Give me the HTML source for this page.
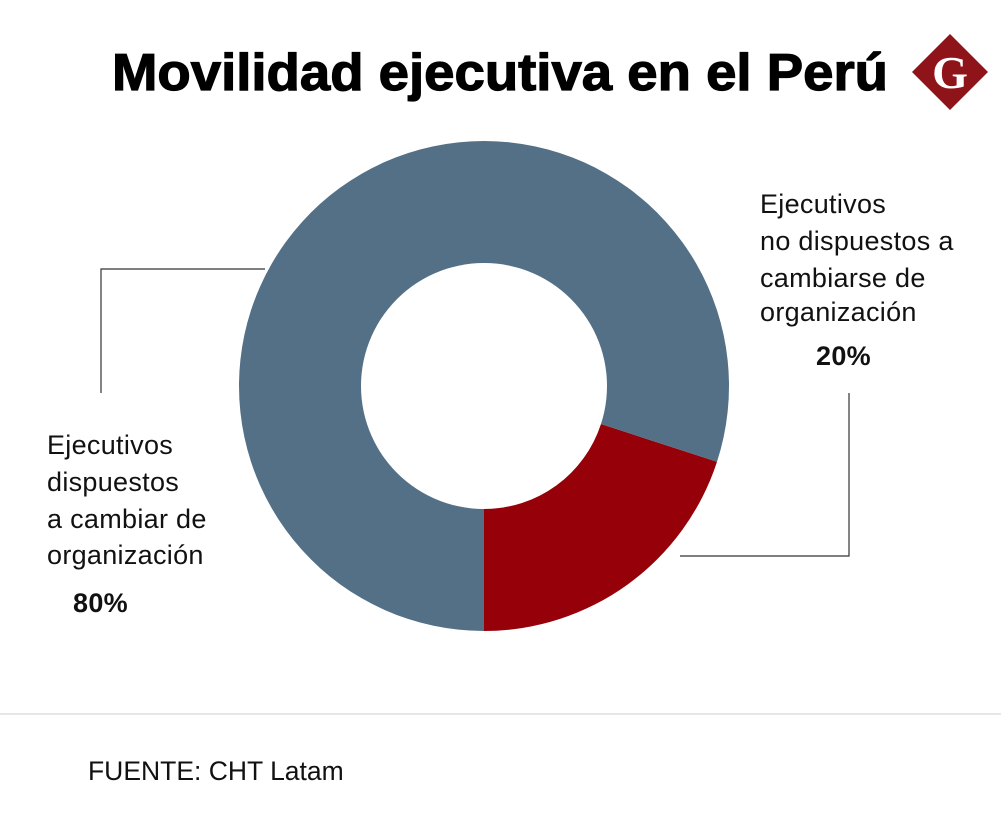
<!DOCTYPE html>
<html><head><meta charset="utf-8"><style>
body{margin:0;width:1001px;height:827px;background:#fff;overflow:hidden;font-family:"Liberation Sans",sans-serif}
</style></head><body>
<svg width="1001" height="827">
<text x="112" y="90" font-size="52" font-weight="900" fill="#000" textLength="776" lengthAdjust="spacingAndGlyphs" stroke="#000" stroke-width="1.2">Movilidad ejecutiva en el Perú</text>
<g>
<polygon points="950,34 988,72 950,110 912,72" fill="#8f1419"/>
<text x="950" y="88" font-family="Liberation Serif,serif" font-size="46" font-weight="bold" fill="#fff" text-anchor="middle">G</text>
</g>
<g id="slices"></g>
<polyline points="265,269 101,269 101,393" fill="none" stroke="#333" stroke-width="1.2"/>
<polyline points="680,556 849,556 849,393" fill="none" stroke="#333" stroke-width="1.2"/>
<g font-size="27" fill="#111" letter-spacing="0.3">
<text x="47" y="454">Ejecutivos</text><text x="47" y="491">dispuestos</text><text x="47" y="528">a cambiar de</text><text x="47" y="564">organización</text>
<text x="73" y="612" font-weight="bold">80%</text></g>
<g font-size="27" fill="#111" letter-spacing="0.3">
<text x="760" y="213">Ejecutivos</text><text x="760" y="250">no dispuestos a</text><text x="760" y="287">cambiarse de</text><text x="760" y="321">organización</text>
<text x="816" y="365" font-weight="bold">20%</text></g>
<line x1="0" y1="714" x2="1001" y2="714" stroke="#ccc"/>
<text x="88" y="780" font-size="26.5" fill="#111">FUENTE: CHT Latam</text>
</svg>
<script>
const categories=["No dispuestos","Dispuestos"];
const values=[20,80];
const colors=["#960008","#547087"];
const cx=484,cy=386,R=245,r=123;
const g=document.getElementById('slices');
const total=values.reduce((a,b)=>a+b,0);
let a0=Math.PI/2;
values.forEach((v,i)=>{
  const a1=a0-v/total*2*Math.PI;
  const p=(a,rad)=>[cx+rad*Math.cos(a),cy+rad*Math.sin(a)];
  const large=(v/total)>0.5?1:0;
  const [x0,y0]=p(a0,R),[x1,y1]=p(a1,R),[x2,y2]=p(a1,r),[x3,y3]=p(a0,r);
  const path=document.createElementNS('http://www.w3.org/2000/svg','path');
  path.setAttribute('d',`M${x0},${y0}A${R},${R} 0 ${large} 0 ${x1},${y1}L${x2},${y2}A${r},${r} 0 ${large} 1 ${x3},${y3}Z`);
  path.setAttribute('fill',colors[i]);
  
  
  g.appendChild(path);
  a0=a1;
});
</script>
</body></html>
